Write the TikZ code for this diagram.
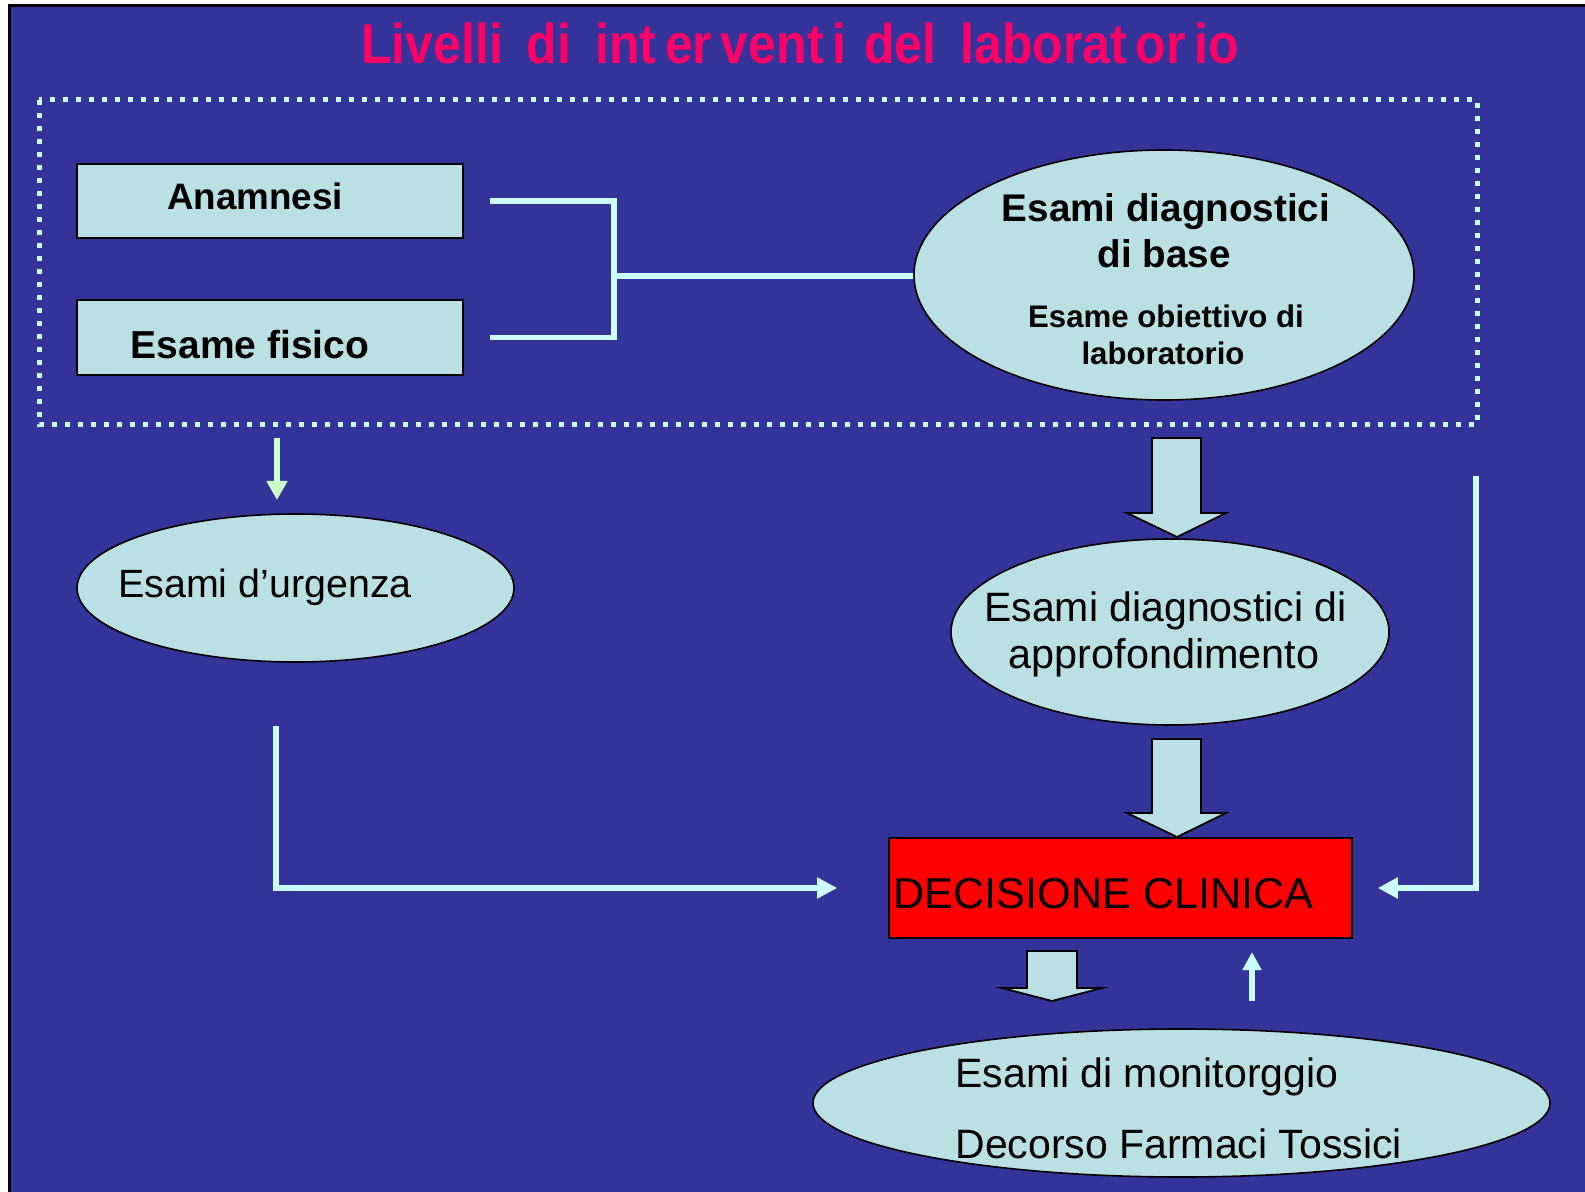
\documentclass[tikz,border=0pt]{standalone}
\usepackage{fontspec}
\setmainfont{Liberation Sans}
\usetikzlibrary{arrows.meta,shapes.geometric}
\definecolor{bgblue}{HTML}{333399}
\definecolor{pale}{HTML}{BBE0E3}
\definecolor{iceline}{HTML}{CCFFFF}
\definecolor{mint}{HTML}{CCFFCC}
\definecolor{titlepink}{HTML}{FF0066}
\newcommand\tgap{\hspace{4.3pt}}
\newcommand\wgap{\hspace{12pt}}
\begin{document}
\begin{tikzpicture}[x=0.5pt,y=-0.5pt,
  panel/.style={draw=black, line width=0.8pt, fill=pale, inner sep=0pt},
  oval/.style={ellipse, draw=black, line width=0.8pt, fill=pale, inner sep=0pt},
  boldtxt/.style={font=\fontsize{19.3}{22}\selectfont\bfseries, inner sep=0pt, anchor=base},
  smalltxt/.style={font=\fontsize{15.6}{18}\selectfont\bfseries, inner sep=0pt, anchor=base},
  plaintxt/.style={font=\fontsize{20.3}{24}\selectfont, inner sep=0pt, anchor=base},
  link/.style={draw=iceline, line width=2.9pt, line join=miter},
  linkarrow/.style={link, -{Triangle[width=10pt,length=10pt]}},
  blockarrow/.style={draw=black, line width=0.9pt, fill=pale, line join=miter}]

% page frame and background
\useasboundingbox (0,0) rectangle (1585,1192);
\fill[white] (0,0) rectangle (1585,1192);
\draw[black, line width=1.5pt, fill=bgblue] (9,6) rectangle (1620,1230);

% title
\node[font=\fontsize{25}{30}\selectfont\bfseries, text=titlepink, inner sep=0pt, anchor=base] (title) at (800,64)
  {\scalebox{1}[1.12]{Livelli\wgap di\wgap int\tgap er\tgap vent\tgap i\hspace{9pt}del\wgap laborat\tgap or\tgap io}};

% dotted frame around the first level
\draw[iceline, line width=2.5pt, dash pattern=on 2.5pt off 4pt] (39,100) rectangle (1477,425);

% first level
\node[panel, minimum width=193pt, minimum height=37pt] (anam) at (270,201) {};
\node[boldtxt, font=\fontsize{18.4}{22}\selectfont\bfseries] (anamt) at (255,210) {Anamnesi};
\node[panel, minimum width=193pt, minimum height=37.5pt] (fis) at (270,337.5) {};
\node[boldtxt, font=\fontsize{19.5}{22}\selectfont\bfseries] (fist) at (250,359) {Esame fisico};

\coordinate (jn) at (614,276);
\draw[link] ([xshift=13pt]anam.east) -| (jn);
\draw[link] ([xshift=13pt]fis.east) -| (jn);
\draw[link] (jn) -- (914,276);

\node[oval, minimum width=250pt, minimum height=125pt] (base) at (1164,275) {};
\node[boldtxt] (base1) at (1166,222) {Esami diagnostici};
\node[boldtxt] (base2) at (1164,268) {di base};
\node[smalltxt] (base3) at (1166,328) {Esame obiettivo di};
\node[smalltxt] (base4) at (1163,365) {laboratorio};

% urgent tests
\coordinate (gtop) at (277,438);
\coordinate (gend) at (277,500);
\draw[mint, line width=3pt, -{Triangle[width=10pt,length=9.5pt]}] (gtop) -- (gend);

\node[oval, minimum width=218.5pt, minimum height=74pt] (urg) at (295.5,588) {};
\node[plaintxt, font=\fontsize{19.7}{24}\selectfont] (urgt) at (265,597) {Esami d’urgenza};

% in-depth tests
\draw[blockarrow] (1152,438) -- (1201,438) -- (1201,513) -- (1226,513) -- (1177,537) -- (1127,513) -- (1152,513) -- cycle;
\node[oval, minimum width=219pt, minimum height=93pt] (appr) at (1170,632) {};
\node[plaintxt, font=\fontsize{20.5}{24}\selectfont] (appr1) at (1165.5,621) {Esami diagnostici di};
\node[plaintxt, font=\fontsize{20.7}{24}\selectfont] (appr2) at (1164,668) {approfondimento};
\draw[blockarrow] (1152,739) -- (1201,739) -- (1201,813) -- (1226,813) -- (1177,837) -- (1127,813) -- (1152,813) -- cycle;

% clinical decision
\node[draw=black, line width=0.8pt, fill=red, minimum width=231.5pt, minimum height=50pt, inner sep=0pt] (dec) at (1120.5,888) {};
\node[font=\fontsize{21.6}{26}\selectfont, inner sep=0pt, anchor=base west] (dect) at (893,908) {DECISIONE CLINICA};

\coordinate (lstart) at (276,726);
\draw[linkarrow] (lstart) |- ([xshift=-25.5pt]dec.west);
\coordinate (rstart) at (1476,476);
\draw[linkarrow] (rstart) |- ([xshift=12.5pt]dec.east);

% monitoring
\draw[blockarrow] (1027,951) -- (1077,951) -- (1077,988) -- (1102,988) -- (1052,1001) -- (1002,988) -- (1027,988) -- cycle;
\coordinate (ubot) at (1252,1001);
\coordinate (utop) at (1252,952);
\draw[iceline, line width=3pt, -{Triangle[width=9pt,length=9pt]}] (ubot) -- (utop);

\node[oval, minimum width=368.5pt, minimum height=74pt] (mon) at (1181.5,1103) {};
\node[plaintxt, font=\fontsize{20.5}{24}\selectfont, anchor=base west] (mon1) at (955,1087) {Esami di monitorggio};
\node[plaintxt, font=\fontsize{20.5}{24}\selectfont, anchor=base west] (mon2) at (955,1158) {Decorso Farmaci Tossici};
\end{tikzpicture}
\end{document}
